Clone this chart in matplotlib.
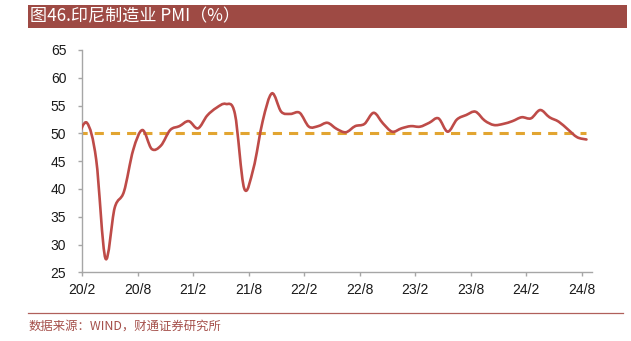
import numpy as np
import matplotlib
matplotlib.use("Agg")
import matplotlib.pyplot as plt
from matplotlib.path import Path
from matplotlib.patches import PathPatch, Rectangle
from matplotlib.lines import Line2D

# 印尼制造业PMI，月度，2020/1 - 2024/8
pmi_2020 = [49.3, 51.9, 45.3, 27.5, 36.6, 39.5, 47.0, 50.6, 47.2, 47.8, 50.6, 51.3]
pmi_2021 = [52.2, 50.9, 53.2, 54.6, 55.3, 53.5, 40.1, 43.7, 52.2, 57.2, 53.9, 53.5]
pmi_2022 = [53.7, 51.2, 51.3, 51.9, 50.8, 50.2, 51.3, 51.7, 53.7, 51.8, 50.3, 50.9]
pmi_2023 = [51.3, 51.2, 51.9, 52.7, 50.3, 52.5, 53.3, 53.9, 52.3, 51.5, 51.7, 52.2]
pmi_2024 = [52.9, 52.7, 54.2, 52.9, 52.1, 50.7, 49.3, 48.9]
pmi = np.array(pmi_2020 + pmi_2021 + pmi_2022 + pmi_2023 + pmi_2024)
threshold = 50  # 荣枯线

tick_labels = ["20/2", "20/8", "21/2", "21/8", "22/2", "22/8", "23/2", "23/8", "24/2", "24/8"]
y_ticks = [25, 30, 35, 40, 45, 50, 55, 60, 65]

RED = "#BE4B48"
ORANGE = "#E2A531"
BAR = "#9E4A44"
GRAY = "#A6A6A6"

plt.rcParams["font.family"] = ["Liberation Sans", "DejaVu Sans"]
cjk = ["Noto Sans CJK SC", "DejaVu Sans"]

fig = plt.figure(figsize=(6.31, 3.41), dpi=100)
ax = fig.add_axes([82.3 / 631, 1 - 272.3 / 341, (592 - 82.3) / 631, (272.3 - 50) / 341])

# 平滑曲线：用三次贝塞尔连接各月数据点
x = np.arange(len(pmi), dtype=float)
pts = np.column_stack([x, pmi])
verts = [tuple(pts[0])]
codes = [Path.MOVETO]
n = len(pts)
for i in range(n - 1):
    p0 = pts[max(i - 1, 0)]
    p1 = pts[i]
    p2 = pts[i + 1]
    p3 = pts[min(i + 2, n - 1)]
    c1 = p1 + (p2 - p0) / 6
    c2 = p2 - (p3 - p1) / 6
    verts += [tuple(c1), tuple(c2), tuple(p2)]
    codes += [Path.CURVE4] * 3
curve = PathPatch(Path(verts, codes), fill=False, edgecolor=RED, lw=1.9,
                  capstyle="round", joinstyle="round", zorder=3)
ax.add_patch(curve)

# 50荣枯线
ax.plot([x[0], x[-1]], [threshold, threshold], color=ORANGE, lw=2.2,
        linestyle=(0, (3.0, 2.3)), zorder=2)

# 坐标轴
tick_pos = [(int(t.split("/")[0]) - 20) * 12 + int(t.split("/")[1]) - 1 - 0.5 for t in tick_labels]
ax.set_xlim(0.5, 55.6)
ax.set_ylim(25, 65)
ax.set_xticks(tick_pos)
ax.set_xticklabels(tick_labels)
ax.set_yticks(y_ticks)
ax.set_yticklabels([str(v) for v in y_ticks])
for s in ["top", "right"]:
    ax.spines[s].set_visible(False)
for s in ["left", "bottom"]:
    ax.spines[s].set_color(GRAY)
    ax.spines[s].set_linewidth(1.0)
ax.tick_params(axis="both", direction="out", length=3, width=1.0, color=GRAY,
               labelsize=10, labelcolor="#1a1a1a")
ax.tick_params(axis="y", pad=8.5)
ax.tick_params(axis="x", pad=4.5)

# 标题栏
fig.patches.append(Rectangle((28 / 631, 1 - 27.5 / 341), (627 - 28) / 631, 22.5 / 341,
                             transform=fig.transFigure, facecolor=BAR, edgecolor="none"))
fig.text(30 / 631, 1 - 16.3 / 341, "图46.印尼制造业 PMI（%）", family=cjk, fontsize=12.3,
         color="white", va="center", ha="left")

# 底部来源
fig.lines.append(Line2D([28 / 631, 623 / 631], [1 - 313.3 / 341, 1 - 313.3 / 341],
                        transform=fig.transFigure, color="#B0605B", lw=0.9))
fig.text(29 / 631, 1 - 326 / 341, "数据来源：WIND，财通证券研究所", family=cjk, fontsize=8.9,
         color="#A5504B", va="center", ha="left")

fig.savefig("out.png", dpi=100)
